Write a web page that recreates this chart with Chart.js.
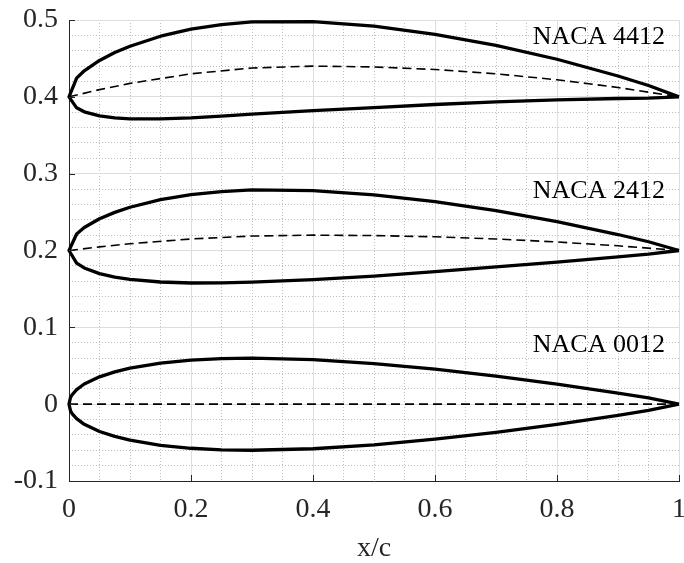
<!DOCTYPE html>
<html>
<head>
<meta charset="utf-8">
<script src="https://cdn.jsdelivr.net/npm/chart.js@4/dist/chart.umd.min.js"></script>
<style>
html, body { margin: 0; padding: 0; background: #fff; }
</style>
</head>
<body>
<canvas id="airfoils" width="684" height="563"></canvas>
<script>
// profile names and the y shift each one is drawn at
var names = ['NACA 4412', 'NACA 2412', 'NACA 0012'];
var offsets = [0.4, 0.2, 0];

// chordwise stations (x/c)
var stations = [0, 0.0125, 0.025, 0.05, 0.075, 0.1, 0.15, 0.2, 0.25, 0.3, 0.4, 0.5, 0.6, 0.7, 0.8, 0.9, 0.95, 1];
var stations0012 = [0, 0.0025, 0.005, 0.0125, 0.025, 0.05, 0.075, 0.1, 0.15, 0.2, 0.25, 0.3, 0.4, 0.5, 0.6, 0.7, 0.8, 0.9, 0.95, 1];
var camberX = [0, 0.05, 0.1, 0.2, 0.3, 0.4, 0.5, 0.6, 0.7, 0.8, 0.9, 1];

// surfaces (y/c, relative to each profile's chord line)
var upper4412 = [0, 0.0244, 0.0339, 0.0473, 0.0576, 0.0659, 0.0789, 0.0880, 0.0941, 0.0976, 0.0980, 0.0919, 0.0814, 0.0669, 0.0489, 0.0271, 0.0147, 0];
var lower4412 = [0, -0.0143, -0.0195, -0.0249, -0.0274, -0.0286, -0.0288, -0.0274, -0.0250, -0.0226, -0.0180, -0.0140, -0.0100, -0.0065, -0.0039, -0.0022, -0.0016, 0];
var camber4412 = [0, 0.0094, 0.0175, 0.0300, 0.0375, 0.0400, 0.0389, 0.0356, 0.0300, 0.0222, 0.0122, 0];

var upper2412 = [0, 0.0215, 0.0299, 0.0413, 0.0496, 0.0563, 0.0661, 0.0726, 0.0767, 0.0788, 0.0780, 0.0724, 0.0636, 0.0518, 0.0375, 0.0208, 0.0114, 0];
var lower2412 = [0, -0.0165, -0.0227, -0.0301, -0.0346, -0.0375, -0.0410, -0.0423, -0.0422, -0.0412, -0.0380, -0.0334, -0.0276, -0.0214, -0.0150, -0.0082, -0.0048, 0];
var camber2412 = [0, 0.0047, 0.0088, 0.0150, 0.0188, 0.0200, 0.0194, 0.0178, 0.0150, 0.0111, 0.0061, 0];

var upper0012 = [0, 0.0087, 0.0122, 0.0189, 0.0262, 0.0356, 0.0420, 0.0468, 0.0535, 0.0574, 0.0594, 0.0600, 0.0580, 0.0529, 0.0456, 0.0366, 0.0262, 0.0145, 0.0081, 0];
var lower0012 = [0, -0.0087, -0.0122, -0.0189, -0.0262, -0.0356, -0.0420, -0.0468, -0.0535, -0.0574, -0.0594, -0.0600, -0.0580, -0.0529, -0.0456, -0.0366, -0.0262, -0.0145, -0.0081, 0];
var camber0012 = [0, 0, 0, 0, 0, 0, 0, 0, 0, 0, 0, 0];

// axis ticks
var xTicks = [0, 0.2, 0.4, 0.6, 0.8, 1];
var xTickLabels = ['0', '0.2', '0.4', '0.6', '0.8', '1'];
var yTicks = [-0.1, 0, 0.1, 0.2, 0.3, 0.4, 0.5];
var yTickLabels = ['-0.1', '0', '0.1', '0.2', '0.3', '0.4', '0.5'];

var profiles = [
	{ xs: stations, up: upper4412, lo: lower4412, cam: camber4412 },
	{ xs: stations, up: upper2412, lo: lower2412, cam: camber2412 },
	{ xs: stations0012, up: upper0012, lo: lower0012, cam: camber0012 }
];

function outline(p, off) {
	var pts = [];
	for (var i = p.xs.length - 1; i >= 0; i--) pts.push({ x: p.xs[i], y: off + p.up[i] });
	for (var j = 1; j < p.xs.length; j++) pts.push({ x: p.xs[j], y: off + p.lo[j] });
	return pts;
}

var datasets = [];
profiles.forEach(function (p, k) {
	datasets.push({
		label: names[k],
		data: outline(p, offsets[k]),
		borderColor: '#000',
		borderWidth: 3.3,
		borderJoinStyle: 'round',
		pointRadius: 0,
		showLine: true,
		tension: 0,
		clip: false
	});
	datasets.push({
		label: names[k] + ' camber',
		data: camberX.map(function (x, i) { return { x: x, y: offsets[k] + p.cam[i] }; }),
		borderColor: '#000',
		borderWidth: 1.6,
		borderDash: [9, 5],
		pointRadius: 0,
		showLine: true,
		tension: 0,
		clip: false
	});
});

var ink = '#262626';
var serif = '"Liberation Serif", "Times New Roman", serif';

// no label overflow padding, so the plot box sits where the reference has it
function noPad(s) {
	s.paddingLeft = 0; s.paddingRight = 0; s.paddingTop = 0; s.paddingBottom = 0;
}

var decor = {
	id: 'decor',
	afterDatasetsDraw: function (chart) {
		var ctx = chart.ctx, a = chart.chartArea;
		var xs = chart.scales.x, ys = chart.scales.y;
		ctx.save();
		ctx.strokeStyle = ink;
		ctx.lineWidth = 1;
		ctx.beginPath();
		xTicks.forEach(function (v) {
			var px = Math.round(xs.getPixelForValue(v)) + 0.5;
			ctx.moveTo(px, a.bottom);
			ctx.lineTo(px, a.bottom - 6);
		});
		yTicks.forEach(function (v) {
			var py = Math.round(ys.getPixelForValue(v)) + 0.5;
			ctx.moveTo(a.left, py);
			ctx.lineTo(a.left + 6, py);
		});
		ctx.stroke();

		ctx.font = '26px ' + serif;
		ctx.fillStyle = '#000';
		ctx.textAlign = 'right';
		ctx.textBaseline = 'alphabetic';
		names.forEach(function (n, k) {
			ctx.fillText(n, xs.getPixelForValue(0.977), ys.getPixelForValue(offsets[k] + 0.0684));
		});
		ctx.restore();
	}
};

Chart.defaults.font.family = serif;
Chart.defaults.font.size = 28;
Chart.defaults.color = ink;

new Chart(document.getElementById('airfoils'), {
	type: 'scatter',
	data: { datasets: datasets },
	plugins: [decor],
	options: {
		responsive: false,
		animation: false,
		devicePixelRatio: 1,
		layout: { autoPadding: false, padding: { top: 20, right: 5, left: 0, bottom: 0 } },
		plugins: { legend: { display: false }, tooltip: { enabled: false } },
		scales: {
			xm: {
				type: 'linear', position: 'bottom', min: 0, max: 1, z: -1,
				ticks: { display: false, stepSize: 0.05 },
				grid: { color: '#bdbdbd', lineWidth: 1, drawTicks: false },
				border: { display: false, dash: [1, 2] },
				afterFit: function (s) { s.height = 0; noPad(s); }
			},
			ym: {
				type: 'linear', position: 'left', min: -0.1, max: 0.5, z: -1,
				ticks: { display: false, stepSize: 0.02 },
				grid: { color: '#bdbdbd', lineWidth: 1, drawTicks: false },
				border: { display: false, dash: [1, 2] },
				afterFit: function (s) { s.width = 0; noPad(s); }
			},
			x: {
				type: 'linear', position: 'bottom', min: 0, max: 1,
				afterBuildTicks: function (s) { s.ticks = xTicks.map(function (v) { return { value: v }; }); },
				ticks: {
					padding: 12, maxRotation: 0,
					callback: function (v, i) { return xTickLabels[i]; }
				},
				grid: { color: '#dedede', lineWidth: 1, drawTicks: false },
				border: { display: true, color: ink, width: 1 },
				title: { display: true, text: 'x/c', font: { size: 28, lineHeight: 1 }, padding: { top: 0, bottom: 0 }, color: ink },
				afterFit: function (s) { s.height = 82; noPad(s); }
			},
			y: {
				type: 'linear', position: 'left', min: -0.1, max: 0.5,
				afterBuildTicks: function (s) { s.ticks = yTicks.map(function (v) { return { value: v }; }); },
				ticks: {
					padding: 11,
					callback: function (v, i) { return yTickLabels[i]; }
				},
				grid: { color: '#dedede', lineWidth: 1, drawTicks: false },
				border: { display: true, color: ink, width: 1 },
				afterFit: function (s) { s.width = 69; noPad(s); }
			}
		}
	}
});
</script>
</body>
</html>
